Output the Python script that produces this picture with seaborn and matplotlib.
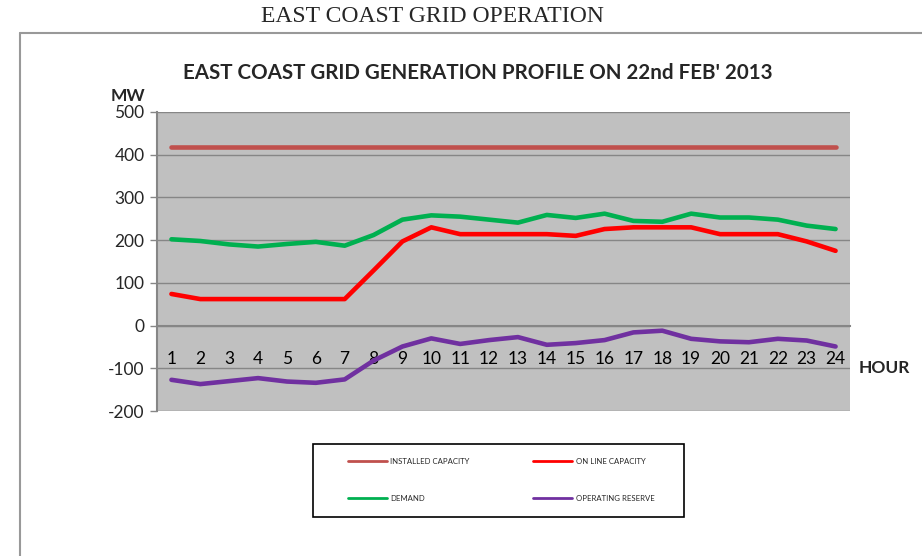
import matplotlib
matplotlib.use('Agg')
import matplotlib.pyplot as plt
import matplotlib.lines as mlines
import matplotlib.patches as mpatches
import seaborn as sns
import pandas as pd
import numpy as np

# data (MW per hour)
hours = list(range(1, 25))
installed = [418] * 24
online = [74, 62, 62, 62, 62, 62, 62, 129, 197, 230, 214, 214,
          214, 214, 210, 226, 230, 230, 230, 214, 214, 214, 197, 175]
demand = [202, 198, 190, 185, 191, 196, 187, 212, 248, 258, 255, 248,
          241, 259, 252, 262, 245, 243, 262, 253, 253, 248, 234, 226]
reserve = [-127, -137, -130, -123, -131, -134, -126, -82, -49, -30, -43, -34,
           -27, -45, -41, -34, -16, -12, -31, -37, -39, -31, -35, -49]

series_names = ['INSTALLED CAPACITY', 'ON LINE CAPACITY', 'DEMAND', 'OPERATING RESERVE']
series_colors = ['#C0504D', '#FF0000', '#00B050', '#7030A0']

df = pd.DataFrame({'hour': hours, 'INSTALLED CAPACITY': installed,
                   'ON LINE CAPACITY': online, 'DEMAND': demand,
                   'OPERATING RESERVE': reserve})
long_df = df.melt(id_vars='hour', var_name='series', value_name='mw')

sns.set_style('white')
plt.rcParams['font.family'] = ['Lato', 'DejaVu Sans']
plt.rcParams['axes.unicode_minus'] = False

fig = plt.figure(figsize=(9.22, 5.56), dpi=100)
ax = fig.add_axes([157 / 922, 1 - 411 / 556, 693 / 922, 299 / 556])
ax.set_facecolor('#C0C0C0')

_ = sns.lineplot(data=long_df, x='hour', y='mw', hue='series', hue_order=series_names,
                 palette=series_colors, linewidth=3.3, legend=False, ax=ax, zorder=3)

ax.set_xlim(0.5, 24.5)
ax.set_ylim(-200, 500)
ax.set_yticks(np.arange(-200, 501, 100))
ax.yaxis.grid(True, color='#868686', linewidth=1.0)
ax.set_axisbelow(True)
ax.set_xlabel('')
ax.set_ylabel('')

for s in ['top', 'right']:
    ax.spines[s].set_visible(False)
ax.spines['left'].set_color('#868686')
ax.spines['left'].set_linewidth(1.5)
ax.spines['bottom'].set_position(('data', 0))
ax.spines['bottom'].set_color('#868686')
ax.spines['bottom'].set_linewidth(1.5)

# category labels at centres, tick marks at boundaries
ax.set_xticks(hours)
ax.set_xticklabels([str(h) for h in hours], fontsize=12.5, color='#000000')
ax.tick_params(axis='x', which='major', length=0, pad=18)
ax.set_xticks(np.arange(1.5, 24.6, 1), minor=True)
ax.tick_params(axis='x', which='minor', length=5, width=1, color='#868686', direction='out')
ax.tick_params(axis='y', which='major', length=5, width=1, color='#868686',
               direction='out', labelsize=12.5, pad=4, left=True)

# texts
fig.text(432 / 922, 1 - 17 / 556, 'EAST COAST GRID OPERATION', ha='center', va='center',
         fontsize=17, family=['Liberation Serif', 'DejaVu Serif'])
fig.text(478 / 922, 1 - 73 / 556, "EAST COAST GRID GENERATION PROFILE ON 22nd FEB' 2013",
         ha='center', va='center', fontsize=14.8, fontweight='bold')
fig.text(128 / 922, 1 - 96 / 556, 'MW', ha='center', va='center', fontsize=12.5, fontweight='bold')
fig.text(884 / 922, 1 - 368 / 556, 'HOUR', ha='center', va='center', fontsize=12.5, fontweight='bold')

# outer frame
fig.add_artist(mlines.Line2D([20 / 922, 20 / 922], [0, 1 - 33 / 556], color='#999999', linewidth=1.5))
fig.add_artist(mlines.Line2D([20 / 922, 1], [1 - 33 / 556, 1 - 33 / 556], color='#999999', linewidth=1.5))

# legend box
fig.add_artist(mpatches.Rectangle((313 / 922, 1 - 517 / 556), 371 / 922, 73 / 556,
                                  transform=fig.transFigure, fill=False,
                                  edgecolor='#000000', linewidth=1.2))
handles = [mlines.Line2D([], [], color=c, linewidth=2) for c in series_colors]
order = [0, 2, 1, 3]
leg = fig.legend([handles[i] for i in order], [series_names[i] for i in order],
                 loc='center', bbox_to_anchor=(501 / 922, 1 - 480 / 556), ncol=2,
                 fontsize=5.6, handlelength=5.1, handletextpad=0.4, columnspacing=8.1,
                 labelspacing=3.8, borderpad=0, frameon=False)

plt.savefig('out.png', dpi=100)
